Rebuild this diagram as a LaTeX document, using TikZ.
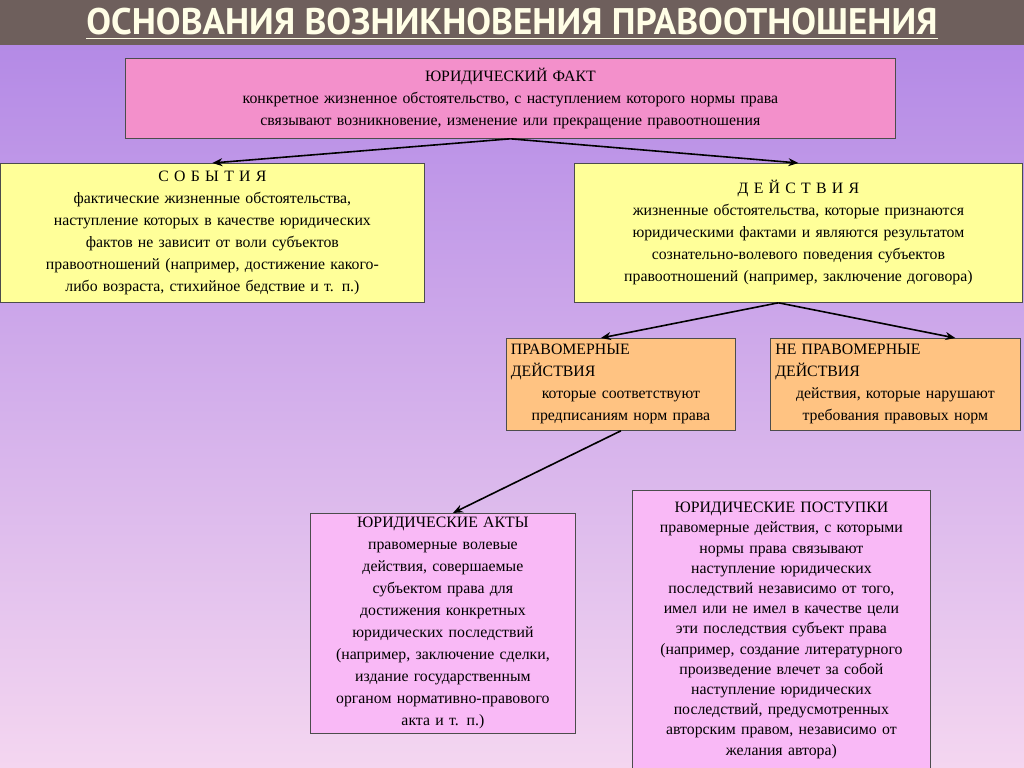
\documentclass[tikz,border=0pt]{standalone}
\usepackage{fontspec}
\setmainfont{Liberation Serif}
\newfontfamily\titlefont{PT Sans}
\usetikzlibrary{positioning,arrows.meta}
\definecolor{barcol}{HTML}{6E5F5C}
\definecolor{topcol}{HTML}{B48AE6}
\definecolor{botcol}{HTML}{F4D6F0}
\definecolor{factcol}{HTML}{F390CB}
\definecolor{eventcol}{HTML}{FFFF99}
\definecolor{actcol}{HTML}{FFC382}
\definecolor{deedcol}{HTML}{F9B9F6}
\tikzset{
  box/.style={draw=black!70,thin,anchor=north west,inner sep=2pt,align=center,font=\fontsize{7.9}{11}\selectfont},
  link/.style={-{Stealth[length=5pt,width=4pt]},thick},
}
\begin{document}
\begin{tikzpicture}[x=0.5pt,y=-0.5pt]
  \useasboundingbox (0,0) rectangle (1024,767);
  \shade[top color=topcol,bottom color=botcol] (0,45) rectangle (1024,767);
  \fill[barcol] (0,0) rectangle (1024,45);
  \node[text=white!90!yellow,font=\titlefont\bfseries\fontsize{18.5}{20}\selectfont] (title) at (512,24)
    {\underline{ОСНОВАНИЯ ВОЗНИКНОВЕНИЯ ПРАВООТНОШЕНИЯ}};
  % yuridicheskiy fakt
  \node[box,fill=factcol,minimum width=385pt,minimum height=40pt,text width=380pt] (fact) at (125,58)
    {ЮРИДИЧЕСКИЙ ФАКТ\\ конкретное жизненное обстоятельство, с наступлением которого нормы права\\ связывают возникновение, изменение или прекращение правоотношения};
  \node[box,fill=eventcol,minimum width=212pt,minimum height=69.5pt,text width=205pt] (events) at (0,163)
    {С О Б Ы Т И Я\\ фактические жизненные обстоятельства,\\ наступление которых в качестве юридических\\ фактов не зависит от воли субъектов\\ правоотношений (например, достижение какого-\\ либо возраста, стихийное бедствие и т. п.)};
  \node[box,fill=eventcol,minimum width=224pt,minimum height=69.5pt,text width=218pt,inner ysep=4pt] (actions) at (574,163)
    {Д Е Й С Т В И Я\\ жизненные обстоятельства, которые признаются\\ юридическими фактами и являются результатом\\ сознательно-волевого поведения субъектов\\ правоотношений (например, заключение договора)\\[4pt]};
  \node[box,fill=actcol,minimum width=114.5pt,minimum height=46pt,text width=110pt] (lawful) at (506,338)
    {\makebox[110pt][l]{ПРАВОМЕРНЫЕ}\\ \makebox[110pt][l]{ДЕЙСТВИЯ}\\ которые соответствуют\\ предписаниям норм права};
  \node[box,fill=actcol,minimum width=125pt,minimum height=46pt,text width=120pt] (unlawful) at (770,338)
    {\makebox[120pt][l]{НЕ ПРАВОМЕРНЫЕ}\\ \makebox[120pt][l]{ДЕЙСТВИЯ}\\ действия, которые нарушают\\ требования правовых норм};
  \node[box,fill=deedcol,minimum width=132.5pt,minimum height=110pt,text width=127pt] (acts) at (310,513)
    {ЮРИДИЧЕСКИЕ АКТЫ\\ правомерные волевые\\ действия, совершаемые\\ субъектом права для\\ достижения конкретных\\ юридических последствий\\ (например, заключение сделки,\\ издание государственным\\ органом нормативно-правового\\ акта и т. п.)};
  \node[box,fill=deedcol,minimum width=149pt,minimum height=140pt,text width=144pt,
        font=\fontsize{7.9}{10.1}\selectfont] (deeds) at (632,490)
    {ЮРИДИЧЕСКИЕ ПОСТУПКИ\\ правомерные действия, с которыми\\ нормы права связывают\\ наступление юридических\\ последствий независимо от того,\\ имел или не имел в качестве цели\\ эти последствия субъект права\\ (например, создание литературного\\ произведение влечет за собой\\ наступление юридических\\ последствий, предусмотренных\\ авторским правом, независимо от\\ желания автора)};
  \draw[link] (fact.south) -- (events.north);
  \draw[link] (fact.south) -- (actions.north);
  \draw[link] ([xshift=-10pt]actions.south) -- ([xshift=-10pt]lawful.north);
  \draw[link] ([xshift=-10pt]actions.south) -- ([xshift=30pt]unlawful.north);
  \draw[link] (lawful.south) -- ([xshift=5pt]acts.north);
\end{tikzpicture}
\end{document}
